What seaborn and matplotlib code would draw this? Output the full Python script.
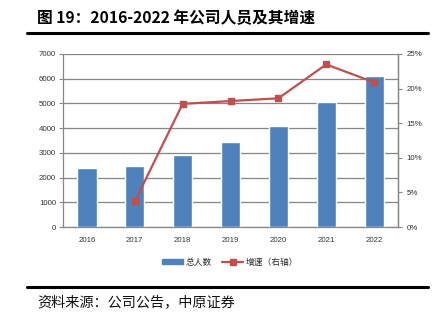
import matplotlib
matplotlib.use("Agg")
import matplotlib.pyplot as plt
import seaborn as sns
import pandas as pd
import numpy as np
from matplotlib.lines import Line2D
from matplotlib.patches import Patch

years = ["2016", "2017", "2018", "2019", "2020", "2021", "2022"]
staff = [2380, 2470, 2920, 3450, 4090, 5050, 6110]
growth_years = ["2017", "2018", "2019", "2020", "2021", "2022"]
growth = [3.7, 17.8, 18.2, 18.6, 23.5, 20.9]
left_ticks = [0, 1000, 2000, 3000, 4000, 5000, 6000, 7000]
right_ticks = [0, 5, 10, 15, 20, 25]

title = "图 19：2016-2022 年公司人员及其增速"
source = "资料来源：公司公告，中原证券"
bar_label = "总人数"
line_label = "增速（右轴）"

sns.set_style("white")
plt.rcParams["font.family"] = ["Noto Sans CJK SC", "DejaVu Sans"]

BLUE = "#4F81BD"
RED = "#C0504D"
GRID = "#868686"

W, H = 444, 324
fig = plt.figure(figsize=(W / 100, H / 100), dpi=100)

L, R, T, B = 63, 398, 54, 227
ax = fig.add_axes([L / W, 1 - B / H, (R - L) / W, (B - T) / H])

df = pd.DataFrame({"year": years, "staff": staff})
sns.barplot(data=df, x="year", y="staff", color=BLUE, width=0.4,
            saturation=1, ax=ax, zorder=3)
ax.set_xlim(-0.5, len(years) - 0.5)
ax.set_ylim(0, 7000)
ax.set_yticks(left_ticks)
ax.set_yticklabels([str(v) for v in left_ticks])
ax.set_xlabel("")
ax.set_ylabel("")
ax.grid(axis="y", color=GRID, linewidth=0.9, zorder=0)
ax.set_axisbelow(True)
ax.spines["top"].set_visible(False)
for s in ["left", "bottom", "right"]:
    ax.spines[s].set_color(GRID)
    ax.spines[s].set_linewidth(0.9)
ax.tick_params(axis="y", direction="out", length=3, width=0.8, color=GRID,
               labelsize=5.7, labelcolor="#333333", pad=2)
ax.tick_params(axis="x", which="major", length=0, labelsize=5.7,
               labelcolor="#333333", pad=7)
ax.set_xticks(np.arange(-0.5, len(years), 1.0), minor=True)
ax.tick_params(axis="x", which="minor", direction="out", length=3,
               width=0.8, color=GRID)
for lab in ax.get_xticklabels() + ax.get_yticklabels():
    lab.set_fontfamily(["Liberation Sans", "DejaVu Sans"])

ax2 = ax.twinx()
pos = [years.index(y) for y in growth_years]
ax2.plot(pos, growth, color=RED, linewidth=1.6, marker="s", markersize=5,
         markerfacecolor=RED, markeredgecolor=RED, zorder=5)
ax2.set_ylim(0, 25)
ax2.set_yticks(right_ticks)
ax2.set_yticklabels([f"{v}%" for v in right_ticks])
for s in ["top", "left", "bottom"]:
    ax2.spines[s].set_visible(False)
ax2.spines["right"].set_color(GRID)
ax2.spines["right"].set_linewidth(0.9)
ax2.tick_params(axis="y", direction="out", length=3, width=0.8, color=GRID,
                labelsize=5.7, labelcolor="#333333", pad=3)
for lab in ax2.get_yticklabels():
    lab.set_fontfamily(["Liberation Sans", "DejaVu Sans"])

handles = [Patch(facecolor=BLUE, edgecolor=BLUE),
           Line2D([0], [0], color=RED, linewidth=1.6, marker="s",
                  markersize=4.5)]
fig.legend(handles, [bar_label, line_label], loc="center",
           bbox_to_anchor=(230 / W, 1 - 262 / H), ncol=2, frameon=False,
           handlelength=2.4, handleheight=0.6,
           columnspacing=1.2, handletextpad=0.3,
           prop={"family": ["Noto Sans CJK SC", "DejaVu Sans"], "size": 6.3})

fig.text(37 / W, 1 - 18 / H, title, fontsize=11.3, fontweight="bold",
         ha="left", va="center", color="black")
fig.add_artist(Line2D([27 / W, 428 / W], [1 - 33 / H, 1 - 33 / H],
                      color="black", linewidth=2.2,
                      transform=fig.transFigure))
fig.add_artist(Line2D([27 / W, 428 / W], [1 - 287 / H, 1 - 287 / H],
                      color="black", linewidth=2.2,
                      transform=fig.transFigure))
fig.text(37 / W, 1 - 302 / H, source, fontsize=10.2, ha="left", va="center",
         color="#111111")

fig.savefig("out.png", dpi=100)
